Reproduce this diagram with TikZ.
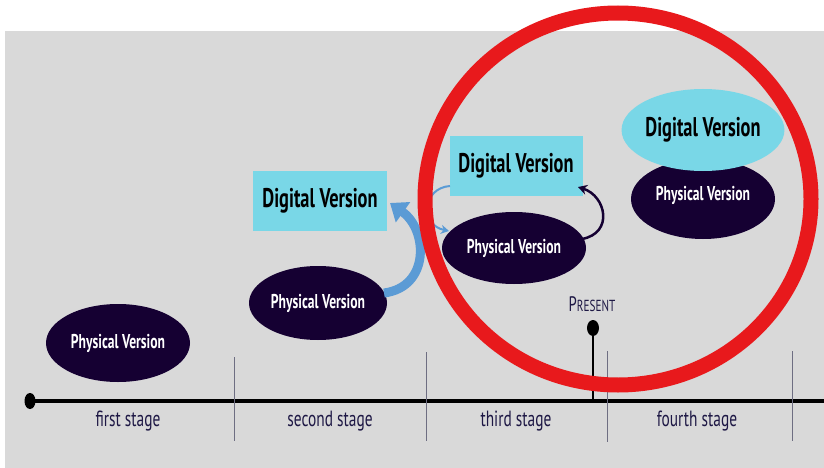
\documentclass[tikz,border=0pt]{standalone}
\usepackage{fontspec}
\usetikzlibrary{shapes.geometric,arrows.meta}
\newfontfamily\condb[FakeStretch=0.68]{PT Sans Bold}
\newfontfamily\cond[FakeStretch=0.7]{PT Sans}
\definecolor{bggray}{HTML}{D9D9D9}
\definecolor{ringred}{HTML}{E8191C}
\definecolor{physfill}{HTML}{150032}
\definecolor{digfill}{HTML}{79D7E7}
\definecolor{arrblue}{HTML}{5B9BD5}
\definecolor{navytext}{HTML}{1E1845}
\definecolor{tickgray}{HTML}{6E6E82}
\tikzset{
  phys/.style={ellipse, fill=physfill, text=white, inner sep=0pt,
    minimum width=144pt, minimum height=78pt,
    font=\condb\fontsize{20}{20}\selectfont},
  digbox/.style={rectangle, fill=digfill, text=black, inner sep=0pt,
    minimum width=134pt, minimum height=60pt,
    font=\condb\fontsize{27}{27}\selectfont},
  digell/.style={ellipse, fill=digfill, text=black, inner sep=0pt,
    minimum width=142pt, minimum height=82pt,
    font=\condb\fontsize{27}{27}\selectfont},
  stagelbl/.style={text=navytext, font=\cond\fontsize{22}{22}\selectfont},
  tick/.style={draw=tickgray, line width=0.9pt},
}
\begin{document}
\begin{tikzpicture}[x=1pt,y=-1pt]
\path[use as bounding box, fill=white] (0,0) rectangle (824,468);
\fill[bggray] (5,31) rectangle (824,468);

% timeline
\coordinate (tstart) at (30,401);
\coordinate (tend) at (824,401);
\draw[line width=4pt] (tstart) -- (tend);
\fill (tstart) ellipse [x radius=5.5, y radius=8];

% ticks
\coordinate (k1a) at (234,357); \coordinate (k1b) at (234,441);
\coordinate (k2a) at (426,352); \coordinate (k2b) at (426,441);
\coordinate (k3a) at (607,351); \coordinate (k3b) at (607,442);
\coordinate (k4a) at (792,351); \coordinate (k4b) at (792,441);
\draw[tick] (k1a) -- (k1b);
\draw[tick] (k2a) -- (k2b);
\draw[tick] (k3a) -- (k3b);
\draw[tick] (k4a) -- (k4b);

% stage labels
\node[stagelbl] (s1) at (128,421) {first stage};
\node[stagelbl] (s2) at (330,421) {second stage};
\node[stagelbl] (s3) at (516,421) {third stage};
\node[stagelbl] (s4) at (697,421) {fourth stage};

% present marker
\coordinate (pbase) at (593,401);
\coordinate (pdot) at (593,328);
\draw[line width=1.6pt] (pdot) -- (pbase);
\fill (pdot) ellipse [x radius=6, y radius=8];
\node[text=navytext, inner sep=0pt] (present) at (592,304)
  {\cond{\fontsize{21}{21}\selectfont P}{\fontsize{16}{16}\selectfont RESENT}};

% stage 1
\node[phys] (p1) at (118,343) {Physical Version};

% stage 2
\node[phys, minimum width=138pt, minimum height=74pt] (p2) at (318,303) {Physical Version};
\node[digbox] (d2) at (320,201) {Digital Version};
\coordinate (a2s) at (384,293);
\coordinate (a2e) at (390,203);
\draw[arrblue, line width=9pt, -{Triangle[width=24pt,length=16pt]}]
  (a2s) .. controls (430,287) and (428,230) .. (a2e);

% stage 3
\node[phys, minimum height=72pt] (p3) at (514,248) {Physical Version};
\node[digbox, minimum width=133pt] (d3) at (516,166) {Digital Version};
\coordinate (b1s) at (450,186);
\coordinate (b1e) at (449,231);
\draw[arrblue, line width=2pt, -{Stealth[width=9pt,length=8pt]}]
  (b1s) .. controls (422,188) and (420,225) .. (b1e);
\coordinate (b2s) at (582,239);
\coordinate (b2e) at (578,187);
\draw[physfill, line width=2.5pt, -{Stealth[width=10pt,length=9pt]}]
  (b2s) .. controls (614,233) and (606,196) .. (b2e);

% stage 4
\node[phys, minimum height=80pt] (p4) at (703,199) {};
\node[text=white, font=\condb\fontsize{20}{20}\selectfont] (p4t) at (703,195) {Physical Version};
\node[digell] (d4) at (703,130) {Digital Version};

% red ring
\draw[ringred, line width=15pt] (618,199) ellipse [x radius=193, y radius=186];
\end{tikzpicture}
\end{document}
